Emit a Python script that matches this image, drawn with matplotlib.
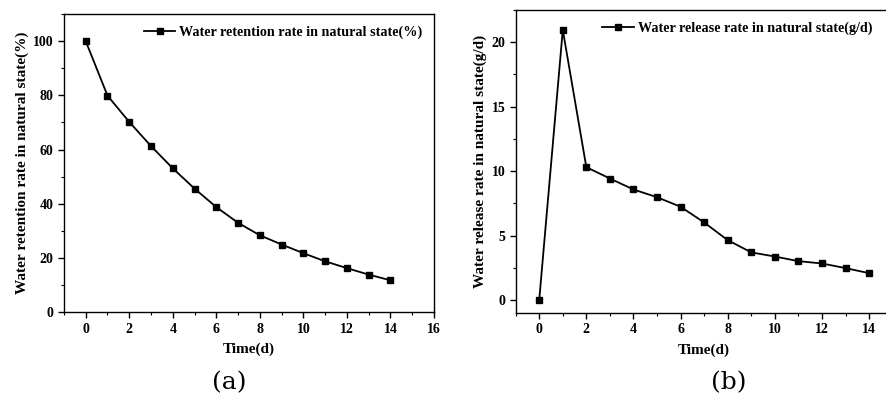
import numpy as np
import matplotlib.pyplot as plt
from matplotlib.ticker import MultipleLocator

plt.rcParams['font.family'] = 'Liberation Serif'
plt.rcParams['font.weight'] = 'bold'

days = list(range(15))
retention = [100, 79.9, 70.2, 61.3, 53.1, 45.6, 38.8, 33.0, 28.4, 25.0, 21.8, 18.8, 16.3, 13.9, 11.8]
release = [0, 20.96, 10.31, 9.43, 8.58, 7.98, 7.24, 6.02, 4.65, 3.70, 3.38, 3.02, 2.84, 2.48, 2.09]

retention_label = "Water retention rate in natural state(%)"
release_label = "Water release rate in natural state(g/d)"

fig = plt.figure(figsize=(8.86, 4.01), dpi=100)
ax1 = fig.add_axes([0.0722, 0.2212, 0.4176, 0.7438])
ax2 = fig.add_axes([0.582, 0.2195, 0.4255, 0.7555])


def style_axis(ax, xmaj, ymaj):
    ax.xaxis.set_major_locator(MultipleLocator(xmaj))
    ax.xaxis.set_minor_locator(MultipleLocator(xmaj / 2))
    ax.yaxis.set_major_locator(MultipleLocator(ymaj))
    ax.yaxis.set_minor_locator(MultipleLocator(ymaj / 2))
    ax.tick_params(which='major', direction='out', length=4, width=1, labelsize=10)
    ax.tick_params(which='minor', direction='out', length=2, width=0.8)
    for s in ax.spines.values():
        s.set_linewidth(1.0)
    for lab in ax.get_xticklabels() + ax.get_yticklabels():
        lab.set_fontweight('bold')


# (a)
ax1.plot(days, retention, color='black', lw=1.3, marker='s', ms=4.5, label=retention_label)
ax1.set_xlim(-1, 16)
ax1.set_ylim(0, 110)
style_axis(ax1, 2, 20)
ax1.set_xlabel("Time(d)", fontsize=11, fontweight='bold', labelpad=5)
ax1.set_ylabel(retention_label, fontsize=11, fontweight='bold', labelpad=3)
ax1.legend(loc='upper right', frameon=False, handlelength=2.2,
           handletextpad=0.3, borderaxespad=0.4, prop={'weight': 'bold', 'size': 10.2})

# (b)
ax2.plot(days, release, color='black', lw=1.3, marker='s', ms=4.5, label=release_label)
ax2.set_xlim(-1, 15)
ax2.set_ylim(-1, 22.5)
style_axis(ax2, 2, 5)
ax2.set_xticks(range(0, 15, 2))
ax2.set_xlabel("Time(d)", fontsize=11, fontweight='bold', labelpad=5)
ax2.set_ylabel(release_label, fontsize=11, fontweight='bold', labelpad=3)
ax2.legend(loc='upper left', bbox_to_anchor=(0.2, 1.0), frameon=False, handlelength=2.2,
           handletextpad=0.3, borderaxespad=0.4, prop={'weight': 'bold', 'size': 10.2})

fig.text(0.259, 0.045, "(a)", ha='center', va='center', fontsize=18,
         fontweight='normal', family='DejaVu Serif')
fig.text(0.823, 0.045, "(b)", ha='center', va='center', fontsize=18,
         fontweight='normal', family='DejaVu Serif')

fig.savefig("out.png", dpi=100)
